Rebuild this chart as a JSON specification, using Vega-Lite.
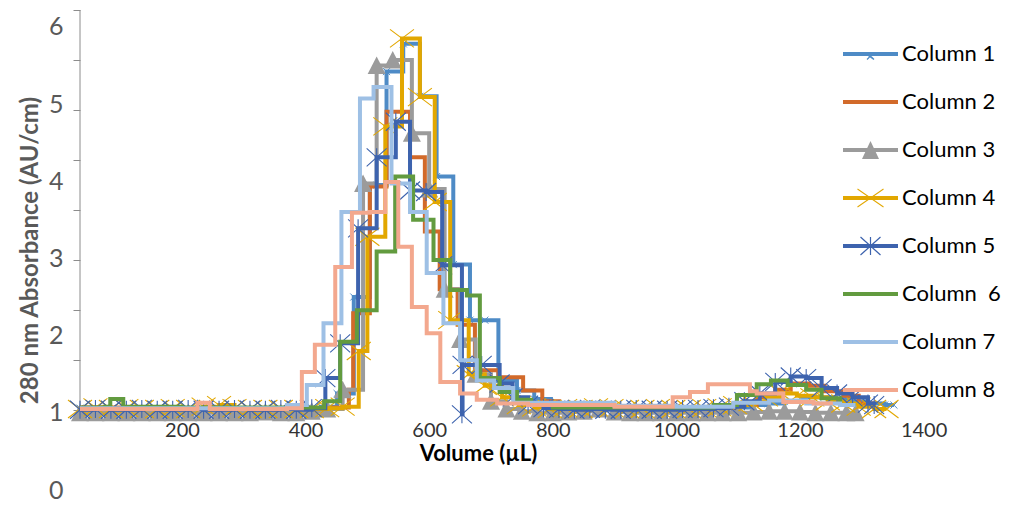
{
  "$schema": "https://vega.github.io/schema/vega-lite/v6.json",
  "width": 843.6,
  "height": 480,
  "autosize": {"type": "none"},
  "padding": {"left": 80, "top": 10, "right": 89.4, "bottom": 18},
  "background": "white",
  "config": {"font": "Lato", "view": {"stroke": null}, "axis": {"grid": false}},
  "datasets": {
    "fr": [
      {"s":"Column 1","v":35,"a":1.06},{"s":"Column 1","v":61,"a":1.05},{"s":"Column 1","v":87,"a":1.06},{"s":"Column 1","v":113,"a":1.05},{"s":"Column 1","v":139,"a":1.05},{"s":"Column 1","v":165,"a":1.06},{"s":"Column 1","v":191,"a":1.05},{"s":"Column 1","v":217,"a":1.05},{"s":"Column 1","v":243,"a":1.06},{"s":"Column 1","v":269,"a":1.05},{"s":"Column 1","v":295,"a":1.05},{"s":"Column 1","v":321,"a":1.05},{"s":"Column 1","v":347,"a":1.06},{"s":"Column 1","v":373,"a":1.05},{"s":"Column 1","v":399,"a":1.06},{"s":"Column 1","v":425,"a":1.08},{"s":"Column 1","v":451,"a":1.25},{"s":"Column 1","v":478,"a":2.5},{"s":"Column 1","v":504,"a":3.95},{"s":"Column 1","v":531,"a":5.42},{"s":"Column 1","v":558,"a":5.78},{"s":"Column 1","v":585,"a":5.1},{"s":"Column 1","v":612,"a":4.06},{"s":"Column 1","v":639,"a":2.92},{"s":"Column 1","v":666,"a":2.2},{"s":"Column 1","v":690,"a":2.2},{"s":"Column 1","v":712,"a":1.42},{"s":"Column 1","v":742,"a":1.29},{"s":"Column 1","v":770,"a":1.18},{"s":"Column 1","v":797,"a":1.1},{"s":"Column 1","v":824,"a":1.07},{"s":"Column 1","v":851,"a":1.06},{"s":"Column 1","v":878,"a":1.06},{"s":"Column 1","v":905,"a":1.05},{"s":"Column 1","v":932,"a":1.05},{"s":"Column 1","v":959,"a":1.06},{"s":"Column 1","v":986,"a":1.05},{"s":"Column 1","v":1013,"a":1.05},{"s":"Column 1","v":1040,"a":1.06},{"s":"Column 1","v":1067,"a":1.06},{"s":"Column 1","v":1094,"a":1.07},{"s":"Column 1","v":1121,"a":1.1},{"s":"Column 1","v":1148,"a":1.12},{"s":"Column 1","v":1175,"a":1.15},{"s":"Column 1","v":1202,"a":1.2},{"s":"Column 1","v":1229,"a":1.2},{"s":"Column 1","v":1256,"a":1.18},{"s":"Column 1","v":1283,"a":1.15},{"s":"Column 1","v":1310,"a":1.12},{"s":"Column 1","v":1337,"a":1.1},{"s":"Column 1","v":1352,"a":1.1},

      {"s":"Column 2","v":35,"a":1.07},{"s":"Column 2","v":150,"a":1.06},{"s":"Column 2","v":300,"a":1.05},{"s":"Column 2","v":440,"a":1.07},{"s":"Column 2","v":470,"a":1.3},{"s":"Column 2","v":477,"a":2.29},{"s":"Column 2","v":504,"a":3.93},{"s":"Column 2","v":531,"a":4.9},{"s":"Column 2","v":569,"a":4.31},{"s":"Column 2","v":593,"a":3.35},{"s":"Column 2","v":617,"a":2.6},{"s":"Column 2","v":646,"a":2.14},{"s":"Column 2","v":674,"a":1.55},{"s":"Column 2","v":712,"a":1.46},{"s":"Column 2","v":752,"a":1.29},{"s":"Column 2","v":783,"a":1.15},{"s":"Column 2","v":810,"a":1.08},{"s":"Column 2","v":900,"a":1.06},{"s":"Column 2","v":1000,"a":1.06},{"s":"Column 2","v":1100,"a":1.1},{"s":"Column 2","v":1130,"a":1.2},{"s":"Column 2","v":1160,"a":1.3},{"s":"Column 2","v":1185,"a":1.38},{"s":"Column 2","v":1215,"a":1.35},{"s":"Column 2","v":1240,"a":1.28},{"s":"Column 2","v":1270,"a":1.22},{"s":"Column 2","v":1295,"a":1.12},{"s":"Column 2","v":1320,"a":1.12},

      {"s":"Column 3","v":35,"a":1.0},{"s":"Column 3","v":60,"a":1.0},{"s":"Column 3","v":85,"a":1.0},{"s":"Column 3","v":110,"a":1.0},{"s":"Column 3","v":135,"a":1.0},{"s":"Column 3","v":160,"a":1.0},{"s":"Column 3","v":185,"a":1.0},{"s":"Column 3","v":210,"a":1.0},{"s":"Column 3","v":235,"a":1.0},{"s":"Column 3","v":260,"a":1.0},{"s":"Column 3","v":285,"a":1.0},{"s":"Column 3","v":310,"a":1.0},{"s":"Column 3","v":335,"a":1.01},{"s":"Column 3","v":360,"a":1.0},{"s":"Column 3","v":385,"a":1.0},{"s":"Column 3","v":410,"a":1.02},{"s":"Column 3","v":435,"a":1.05},{"s":"Column 3","v":460,"a":1.3},{"s":"Column 3","v":493,"a":3.97},{"s":"Column 3","v":515,"a":5.5},{"s":"Column 3","v":541,"a":5.57},{"s":"Column 3","v":572,"a":4.62},{"s":"Column 3","v":600,"a":3.9},{"s":"Column 3","v":625,"a":2.6},{"s":"Column 3","v":650,"a":1.95},{"s":"Column 3","v":675,"a":1.5},{"s":"Column 3","v":700,"a":1.15},{"s":"Column 3","v":725,"a":1.05},{"s":"Column 3","v":750,"a":1.02},{"s":"Column 3","v":775,"a":1.0},{"s":"Column 3","v":800,"a":1.0},{"s":"Column 3","v":825,"a":1.01},{"s":"Column 3","v":850,"a":1.02},{"s":"Column 3","v":875,"a":1.05},{"s":"Column 3","v":900,"a":1.01},{"s":"Column 3","v":925,"a":1.0},{"s":"Column 3","v":950,"a":1.0},{"s":"Column 3","v":975,"a":1.0},{"s":"Column 3","v":1000,"a":1.0},{"s":"Column 3","v":1025,"a":1.0},{"s":"Column 3","v":1050,"a":1.0},{"s":"Column 3","v":1075,"a":1.0},{"s":"Column 3","v":1100,"a":1.0},{"s":"Column 3","v":1125,"a":1.01},{"s":"Column 3","v":1150,"a":1.02},{"s":"Column 3","v":1175,"a":1.02},{"s":"Column 3","v":1200,"a":1.01},{"s":"Column 3","v":1225,"a":1.0},{"s":"Column 3","v":1250,"a":1.0},{"s":"Column 3","v":1275,"a":1.0},{"s":"Column 3","v":1290,"a":1.0},

      {"s":"Column 4","v":35,"a":1.05},{"s":"Column 4","v":60,"a":1.07},{"s":"Column 4","v":85,"a":1.05},{"s":"Column 4","v":110,"a":1.06},{"s":"Column 4","v":135,"a":1.05},{"s":"Column 4","v":160,"a":1.05},{"s":"Column 4","v":185,"a":1.06},{"s":"Column 4","v":210,"a":1.05},{"s":"Column 4","v":235,"a":1.08},{"s":"Column 4","v":260,"a":1.1},{"s":"Column 4","v":285,"a":1.06},{"s":"Column 4","v":310,"a":1.05},{"s":"Column 4","v":335,"a":1.05},{"s":"Column 4","v":360,"a":1.05},{"s":"Column 4","v":385,"a":1.05},{"s":"Column 4","v":410,"a":1.05},{"s":"Column 4","v":435,"a":1.06},{"s":"Column 4","v":460,"a":1.08},{"s":"Column 4","v":486,"a":1.8},{"s":"Column 4","v":500,"a":3.28},{"s":"Column 4","v":529,"a":4.71},{"s":"Column 4","v":556,"a":5.85},{"s":"Column 4","v":585,"a":5.09},{"s":"Column 4","v":609,"a":3.73},{"s":"Column 4","v":634,"a":2.2},{"s":"Column 4","v":664,"a":1.5},{"s":"Column 4","v":690,"a":1.35},{"s":"Column 4","v":718,"a":1.2},{"s":"Column 4","v":745,"a":1.1},{"s":"Column 4","v":770,"a":1.07},{"s":"Column 4","v":795,"a":1.05},{"s":"Column 4","v":820,"a":1.06},{"s":"Column 4","v":845,"a":1.05},{"s":"Column 4","v":870,"a":1.07},{"s":"Column 4","v":895,"a":1.06},{"s":"Column 4","v":920,"a":1.05},{"s":"Column 4","v":945,"a":1.05},{"s":"Column 4","v":970,"a":1.06},{"s":"Column 4","v":995,"a":1.05},{"s":"Column 4","v":1020,"a":1.05},{"s":"Column 4","v":1045,"a":1.06},{"s":"Column 4","v":1070,"a":1.07},{"s":"Column 4","v":1095,"a":1.1},{"s":"Column 4","v":1120,"a":1.14},{"s":"Column 4","v":1145,"a":1.2},{"s":"Column 4","v":1170,"a":1.25},{"s":"Column 4","v":1195,"a":1.22},{"s":"Column 4","v":1220,"a":1.2},{"s":"Column 4","v":1245,"a":1.15},{"s":"Column 4","v":1270,"a":1.12},{"s":"Column 4","v":1295,"a":1.08},{"s":"Column 4","v":1320,"a":1.05},{"s":"Column 4","v":1340,"a":1.05},

      {"s":"Column 5","v":35,"a":1.04},{"s":"Column 5","v":60,"a":1.05},{"s":"Column 5","v":85,"a":1.04},{"s":"Column 5","v":110,"a":1.04},{"s":"Column 5","v":135,"a":1.05},{"s":"Column 5","v":160,"a":1.04},{"s":"Column 5","v":185,"a":1.04},{"s":"Column 5","v":210,"a":1.05},{"s":"Column 5","v":235,"a":1.04},{"s":"Column 5","v":260,"a":1.04},{"s":"Column 5","v":285,"a":1.05},{"s":"Column 5","v":310,"a":1.04},{"s":"Column 5","v":335,"a":1.04},{"s":"Column 5","v":360,"a":1.05},{"s":"Column 5","v":385,"a":1.04},{"s":"Column 5","v":410,"a":1.06},{"s":"Column 5","v":432,"a":1.45},{"s":"Column 5","v":456,"a":1.9},{"s":"Column 5","v":485,"a":3.39},{"s":"Column 5","v":515,"a":4.31},{"s":"Column 5","v":546,"a":4.77},{"s":"Column 5","v":569,"a":3.88},{"s":"Column 5","v":595,"a":3.86},{"s":"Column 5","v":621,"a":2.91},{"s":"Column 5","v":653,"a":0.98},{"s":"Column 5","v":654,"a":1.62},{"s":"Column 5","v":685,"a":1.62},{"s":"Column 5","v":714,"a":1.38},{"s":"Column 5","v":735,"a":1.2},{"s":"Column 5","v":760,"a":1.1},{"s":"Column 5","v":785,"a":1.06},{"s":"Column 5","v":810,"a":1.05},{"s":"Column 5","v":835,"a":1.04},{"s":"Column 5","v":860,"a":1.05},{"s":"Column 5","v":885,"a":1.04},{"s":"Column 5","v":910,"a":1.04},{"s":"Column 5","v":935,"a":1.05},{"s":"Column 5","v":960,"a":1.04},{"s":"Column 5","v":985,"a":1.04},{"s":"Column 5","v":1010,"a":1.05},{"s":"Column 5","v":1035,"a":1.05},{"s":"Column 5","v":1060,"a":1.06},{"s":"Column 5","v":1085,"a":1.08},{"s":"Column 5","v":1110,"a":1.15},{"s":"Column 5","v":1135,"a":1.25},{"s":"Column 5","v":1160,"a":1.4},{"s":"Column 5","v":1185,"a":1.47},{"s":"Column 5","v":1210,"a":1.45},{"s":"Column 5","v":1235,"a":1.32},{"s":"Column 5","v":1260,"a":1.25},{"s":"Column 5","v":1285,"a":1.2},{"s":"Column 5","v":1310,"a":1.12},{"s":"Column 5","v":1320,"a":1.1},

      {"s":"Column \u00a06","v":35,"a":1.07},{"s":"Column \u00a06","v":75,"a":1.08},{"s":"Column \u00a06","v":84,"a":1.18},{"s":"Column \u00a06","v":105,"a":1.08},{"s":"Column \u00a06","v":200,"a":1.07},{"s":"Column \u00a06","v":300,"a":1.07},{"s":"Column \u00a06","v":400,"a":1.07},{"s":"Column \u00a06","v":430,"a":1.15},{"s":"Column \u00a06","v":456,"a":1.92},{"s":"Column \u00a06","v":483,"a":2.33},{"s":"Column \u00a06","v":515,"a":3.09},{"s":"Column \u00a06","v":545,"a":4.06},{"s":"Column \u00a06","v":574,"a":3.5},{"s":"Column \u00a06","v":607,"a":2.98},{"s":"Column \u00a06","v":634,"a":2.59},{"s":"Column \u00a06","v":661,"a":2.52},{"s":"Column \u00a06","v":682,"a":1.45},{"s":"Column \u00a06","v":714,"a":1.27},{"s":"Column \u00a06","v":742,"a":1.17},{"s":"Column \u00a06","v":765,"a":1.1},{"s":"Column \u00a06","v":800,"a":1.07},{"s":"Column \u00a06","v":950,"a":1.07},{"s":"Column \u00a06","v":1060,"a":1.1},{"s":"Column \u00a06","v":1098,"a":1.23},{"s":"Column \u00a06","v":1130,"a":1.37},{"s":"Column \u00a06","v":1153,"a":1.42},{"s":"Column \u00a06","v":1180,"a":1.36},{"s":"Column \u00a06","v":1210,"a":1.3},{"s":"Column \u00a06","v":1235,"a":1.19},{"s":"Column \u00a06","v":1265,"a":1.1},{"s":"Column \u00a06","v":1290,"a":1.1},

      {"s":"Column 7","v":35,"a":1.06},{"s":"Column 7","v":200,"a":1.06},{"s":"Column 7","v":370,"a":1.1},{"s":"Column 7","v":402,"a":1.36},{"s":"Column 7","v":429,"a":2.16},{"s":"Column 7","v":458,"a":3.6},{"s":"Column 7","v":488,"a":5.07},{"s":"Column 7","v":510,"a":5.22},{"s":"Column 7","v":539,"a":3.97},{"s":"Column 7","v":569,"a":3.6},{"s":"Column 7","v":596,"a":2.81},{"s":"Column 7","v":623,"a":2.16},{"s":"Column 7","v":650,"a":1.68},{"s":"Column 7","v":677,"a":1.42},{"s":"Column 7","v":705,"a":1.32},{"s":"Column 7","v":736,"a":1.13},{"s":"Column 7","v":900,"a":1.09},{"s":"Column 7","v":1000,"a":1.08},{"s":"Column 7","v":1092,"a":1.13},{"s":"Column 7","v":1150,"a":1.16},{"s":"Column 7","v":1210,"a":1.12},{"s":"Column 7","v":1265,"a":1.1},{"s":"Column 7","v":1290,"a":1.1},

      {"s":"Column 8","v":35,"a":1.05},{"s":"Column 8","v":225,"a":1.13},{"s":"Column 8","v":245,"a":1.05},{"s":"Column 8","v":370,"a":1.06},{"s":"Column 8","v":394,"a":1.53},{"s":"Column 8","v":415,"a":1.88},{"s":"Column 8","v":448,"a":2.89},{"s":"Column 8","v":475,"a":3.59},{"s":"Column 8","v":504,"a":3.6},{"s":"Column 8","v":529,"a":3.99},{"s":"Column 8","v":550,"a":3.15},{"s":"Column 8","v":572,"a":2.37},{"s":"Column 8","v":596,"a":2.03},{"s":"Column 8","v":618,"a":1.4},{"s":"Column 8","v":650,"a":1.25},{"s":"Column 8","v":677,"a":1.17},{"s":"Column 8","v":710,"a":1.12},{"s":"Column 8","v":760,"a":1.1},{"s":"Column 8","v":900,"a":1.08},{"s":"Column 8","v":994,"a":1.2},{"s":"Column 8","v":1022,"a":1.27},{"s":"Column 8","v":1051,"a":1.37},{"s":"Column 8","v":1119,"a":1.28},{"s":"Column 8","v":1130,"a":1.25},{"s":"Column 8","v":1173,"a":1.14},{"s":"Column 8","v":1222,"a":1.12},{"s":"Column 8","v":1250,"a":1.1}
    ]
  },
  "data": {"name": "fr"},
  "encoding": {
    "x": {
      "field": "v", "type": "quantitative",
      "scale": {"domain": [35, 1400], "nice": false, "zero": false},
      "axis": {
        "title": "Volume (µL)", "values": [200, 400, 600, 800, 1000, 1200, 1400], "format": "d",
        "domain": false, "ticks": false, "offset": -80,
        "labelFontSize": 20, "labelColor": "#333333", "labelPadding": 10, "labelFlush": false,
        "titleFontSize": 22, "titleFontWeight": "bold", "titleColor": "#000000", "titleX": 398, "titlePadding": 3
      }
    },
    "y": {
      "field": "a", "type": "quantitative",
      "scale": {"domain": [0, 6.218], "nice": false, "zero": false},
      "axis": {
        "title": "280 nm Absorbance (AU/cm)",
        "values": [0, 1, 2, 3, 4, 5, 6, 1.036, 1.684, 2.332, 2.979, 3.627, 4.275, 4.922, 5.57, 6.218],
        "labelExpr": "datum.value % 1 === 0 ? format(datum.value, 'd') : ''",
        "domain": false, "tickSize": 7, "tickColor": "#8c8c8c",
        "tickOpacity": {"condition": {"test": "datum.value % 1 !== 0", "value": 1}, "value": 0},
        "labelFontSize": 25, "labelColor": "#595959", "labelPadding": 10, "labelOverlap": false, "labelBound": false,
        "titleFontSize": 24, "titleColor": "#595959", "titleFontWeight": "bold", "titlePadding": 6
      }
    }
  },
  "layer": [
    {"data": {"values": [{"v": 35, "a": 1.036, "a2": 6.218}]}, "mark": {"type": "rule", "strokeWidth": 1, "color": "#8c8c8c"}, "encoding": {"y2": {"field": "a2"}}},
    {"transform": [{"filter": "datum.s === 'Column 1'"}], "mark": {"type": "line", "interpolate": "step-after", "strokeWidth": 4, "color": "#4E8BC6"}},
    {"transform": [{"filter": "datum.s === 'Column 1'"}], "mark": {"type": "point", "shape": "M-1,-1L1,1M-1,1L1,-1", "size": 50, "filled": false, "strokeWidth": 1, "opacity": 1, "color": "#4E8BC6"}},
    {"transform": [{"filter": "datum.s === 'Column 2'"}], "mark": {"type": "line", "interpolate": "step-after", "strokeWidth": 4, "color": "#D26A2A"}},
    {"transform": [{"filter": "datum.s === 'Column 3'"}], "mark": {"type": "line", "interpolate": "step-after", "strokeWidth": 4, "color": "#9B9B9B"}},
    {"transform": [{"filter": "datum.s === 'Column 3'"}], "mark": {"type": "point", "shape": "M0,-0.9L0.9,0.85L-0.9,0.85Z", "size": 400, "filled": true, "opacity": 1, "color": "#9B9B9B"}},
    {"transform": [{"filter": "datum.s === 'Column 4'"}], "mark": {"type": "line", "interpolate": "step-after", "strokeWidth": 4, "color": "#E2A700"}},
    {"transform": [{"filter": "datum.s === 'Column 4'"}], "mark": {"type": "point", "shape": "M-1.2,-0.9L1.2,0.9M-1.2,0.9L1.2,-0.9", "size": 400, "filled": false, "strokeWidth": 1.1, "opacity": 1, "color": "#E2A700"}},
    {"transform": [{"filter": "datum.s === 'Column 5'"}], "mark": {"type": "line", "interpolate": "step-after", "strokeWidth": 4, "color": "#3D63AE"}},
    {"transform": [{"filter": "datum.s === 'Column 5'"}], "mark": {"type": "point", "shape": "M-1,-0.9L1,0.9M-1,0.9L1,-0.9M0,-0.9L0,0.9", "size": 400, "filled": false, "strokeWidth": 1.1, "opacity": 1, "color": "#3D63AE"}},
    {"transform": [{"filter": "datum.s === 'Column \u00a06'"}], "mark": {"type": "line", "interpolate": "step-after", "strokeWidth": 4, "color": "#629B3F"}},
    {"transform": [{"filter": "datum.s === 'Column 7'"}], "mark": {"type": "line", "interpolate": "step-after", "strokeWidth": 4, "color": "#9EC0E5"}},
    {"transform": [{"filter": "datum.s === 'Column 8'"}], "mark": {"type": "line", "interpolate": "step-after", "strokeWidth": 4, "color": "#F3A88E"}},
    {
      "transform": [{"filter": "false"}],
      "mark": {"type": "point", "filled": true, "opacity": 1, "size": 400},
      "encoding": {
        "color": {
          "field": "s", "type": "nominal",
          "scale": {
            "domain": ["Column 1", "Column 2", "Column 3", "Column 4", "Column 5", "Column \u00a06", "Column 7", "Column 8"],
            "range": ["#4E8BC6", "#D26A2A", "#9B9B9B", "#E2A700", "#3D63AE", "#629B3F", "#9EC0E5", "#F3A88E"]
          },
          "legend": {"orient": "none", "legendX": 779.5, "legendY": 33, "title": null, "symbolSize": 400, "symbolStrokeWidth": 0, "symbolOpacity": 1, "labelFontSize": 22, "labelColor": "#000000", "rowPadding": 26, "labelOffset": 20.5, "padding": 0, "labelLimit": 300}
        },
        "shape": {
          "field": "s", "type": "nominal",
          "scale": {
            "domain": ["Column 1", "Column 2", "Column 3", "Column 4", "Column 5", "Column \u00a06", "Column 7", "Column 8"],
            "range": [
              "M-2.75,-0.2H2.75V0.2H-2.75ZM-0.308,-0.192L0.392,0.508L0.308,0.592L-0.392,0.108ZM-0.392,0.508L0.308,-0.192L0.392,-0.108L-0.308,0.592Z",
              "M-2.75,-0.2H2.75V0.2H-2.75Z",
              "M-2.75,-0.2H2.75V0.2H-2.75ZM0,-0.9L0.85,0.9L-0.85,0.9Z",
              "M-2.75,-0.2H2.75V0.2H-2.75ZM-1.272,-0.941L1.328,0.859L1.272,0.941L-1.328,-0.859ZM-1.328,0.859L1.272,-0.941L1.328,-0.859L-1.272,0.941Z",
              "M-2.75,-0.2H2.75V0.2H-2.75ZM-0.96,-0.945L1.04,0.855L0.96,0.945L-1.04,-0.855ZM-1.04,0.855L0.96,-0.945L1.04,-0.855L-0.96,0.945ZM-0.06,-0.9H0.06V0.9H-0.06Z",
              "M-2.75,-0.2H2.75V0.2H-2.75Z",
              "M-2.75,-0.2H2.75V0.2H-2.75Z",
              "M-2.75,-0.2H2.75V0.2H-2.75Z"
            ]
          },
          "legend": {"orient": "none", "legendX": 779.5, "legendY": 33, "title": null, "symbolSize": 400, "symbolStrokeWidth": 0, "symbolOpacity": 1, "labelFontSize": 22, "labelColor": "#000000", "rowPadding": 26, "labelOffset": 20.5, "padding": 0, "labelLimit": 300}
        }
      }
    }
  ]
}
